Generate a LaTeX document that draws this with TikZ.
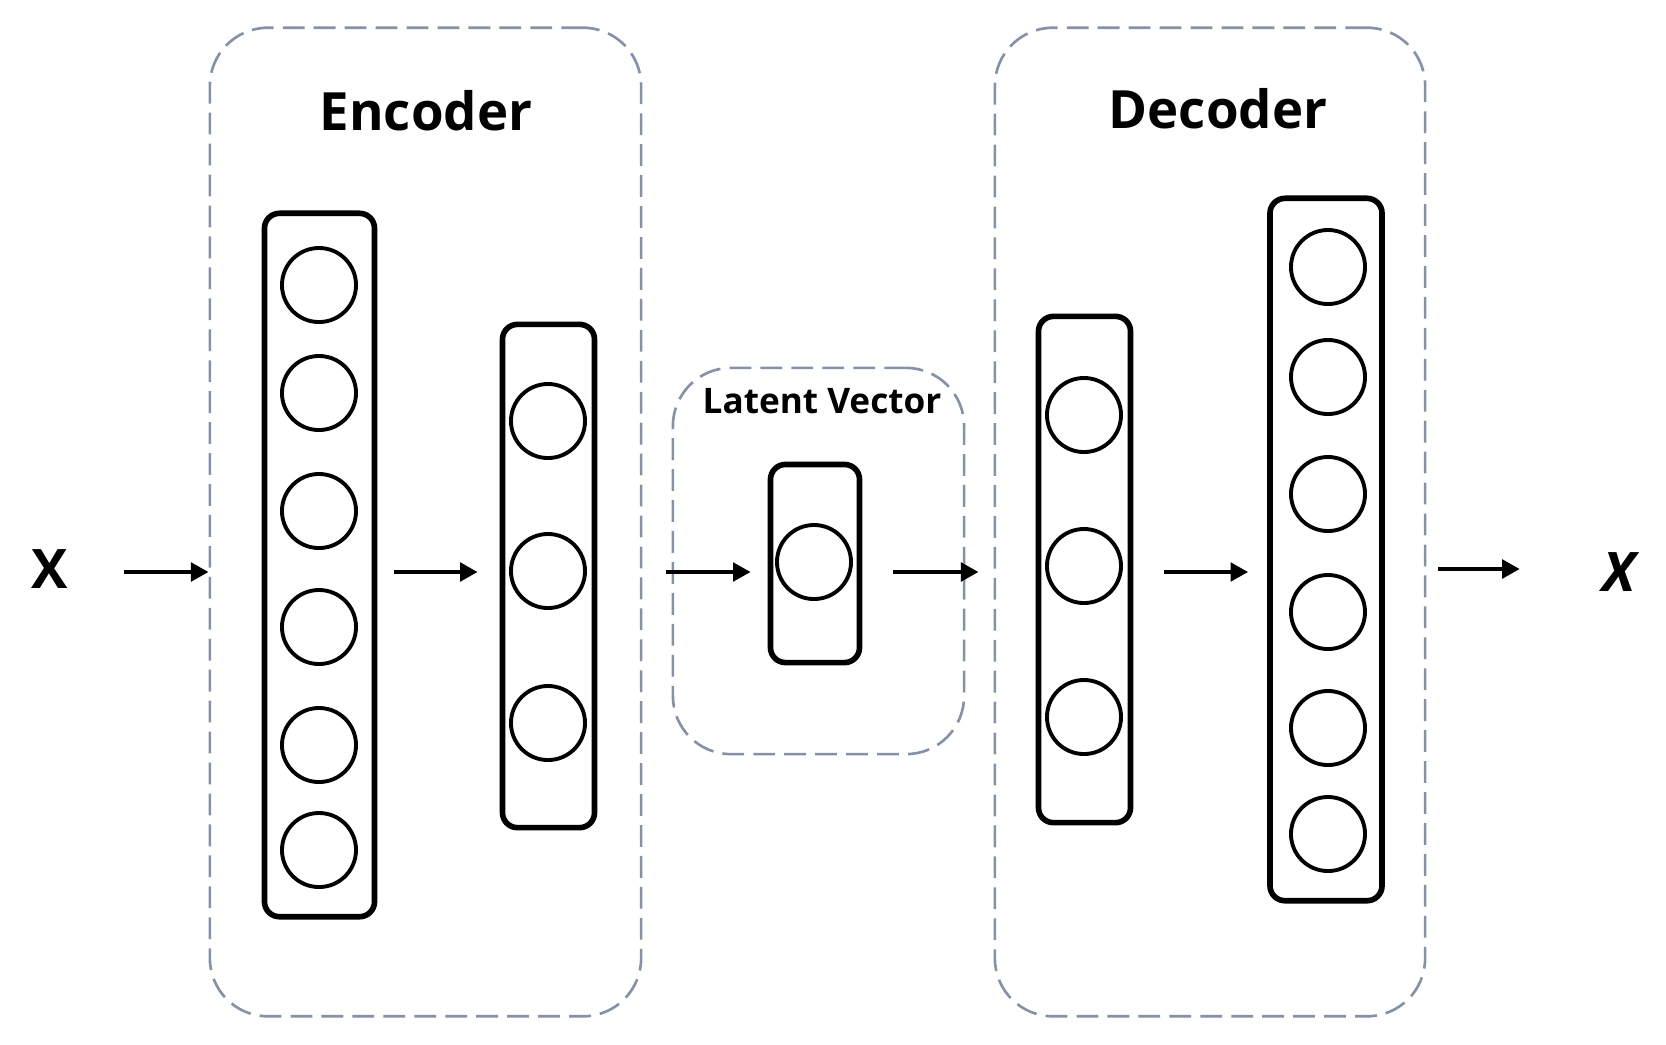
\documentclass[tikz,border=0pt]{standalone}
\usepackage{fontspec}
\setmainfont{Open Sans}
\usepackage{tikz}
\usetikzlibrary{arrows.meta,calc}

\definecolor{dashgray}{RGB}{132,145,168}

\tikzset{
  group/.style={draw=dashgray, line width=0.75pt, dash pattern=on 6.2pt off 2.6pt, rounded corners=0.58cm, inner sep=0},
  layer/.style={draw, line width=1.6pt, rounded corners=0.15cm, inner sep=0},
  unit/.style={circle, draw, line width=1.1pt, minimum size=0.74cm, inner sep=0},
  arr/.style={-{Triangle[length=5pt,width=5.2pt]}, line width=1.2pt},
  title/.style={font=\bfseries\fontsize{15}{18}\selectfont, anchor=base},
}

\begin{document}
\begin{tikzpicture}[x=0.01cm, y=-0.01cm]
\useasboundingbox (0,0) rectangle (1666,1044);
% dashed groups
\node[group, minimum width=4.31cm, minimum height=9.88cm] (enc) at (425.5,522) {};
\node[group, minimum width=2.91cm, minimum height=3.86cm] (lat) at (818.5,561) {};
\node[group, minimum width=4.30cm, minimum height=9.88cm] (dec) at (1210,522) {};
\node[title] (enctitle) at (426,130) {Encoder};
\node[title] (dectitle) at (1218,128) {Decoder};
\node[font=\bfseries\fontsize{10}{12}\selectfont, anchor=base] (lattitle) at (822,413) {Latent Vector};
% layers
\node[layer, minimum width=1.10cm, minimum height=7.03cm] (enc1) at (319.5,565) {};
\node[layer, minimum width=0.92cm, minimum height=5.03cm] (enc2) at (548.5,576) {};
\node[layer, minimum width=0.89cm, minimum height=1.98cm] (latv) at (815,563.5) {};
\node[layer, minimum width=0.92cm, minimum height=5.06cm] (dec1) at (1084.5,569.5) {};
\node[layer, minimum width=1.12cm, minimum height=7.02cm] (dec2) at (1326,549.5) {};
\foreach \y [count=\i] in {285,393,511,627,745,850} \node[unit] (e1n\i) at (319,\y) {};
\foreach \y [count=\i] in {421,571,723} \node[unit] (e2n\i) at (548,\y) {};
\node[unit] (ln1) at (814,562) {};
\foreach \y [count=\i] in {415,566,717} \node[unit] (d1n\i) at (1084,\y) {};
\foreach \y [count=\i] in {267,377,494,612,728,834} \node[unit] (d2n\i) at (1328,\y) {};
% input / output
\node[font=\bfseries\fontsize{15.5}{18}\selectfont, anchor=base, inner sep=0] (inX) at (50,588) {X};
\node[font=\bfseries\itshape\fontsize{15.5}{18}\selectfont, anchor=base, inner sep=0] (outX) at (1619,591) {X};
\coordinate (row) at (0,572);
% arrows
\draw[arr] ($(inX.east |- row)+(55,0)$) -- (enc.west |- row);
\draw[arr] ($(enc1.east |- row)+(17,0)$) -- ($(enc2.west |- row)+(-22,0)$);
\draw[arr] ($(enc.east |- row)+(24,0)$) -- ($(latv.west |- row)+(-17,0)$);
\draw[arr] ($(latv.east |- row)+(31,0)$) -- ($(dec.west |- row)+(-15,0)$);
\draw[arr] ($(dec1.east |- row)+(31,0)$) -- ($(dec2.west |- row)+(-19,0)$);
\draw[arr] ($(dec.east |- row)+(12,-3)$) -- ($(outX.west |- row)+(-82,-3)$);
\end{tikzpicture}
\end{document}
